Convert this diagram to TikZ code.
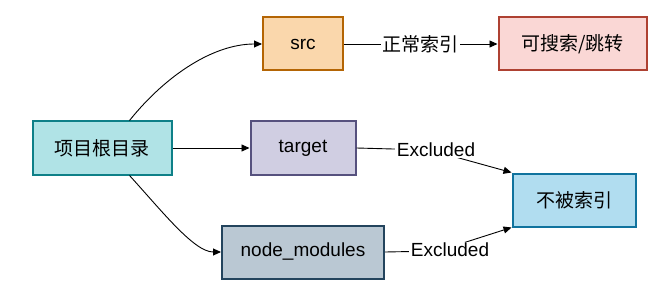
\documentclass[tikz,border=0pt]{standalone}
\usepackage{fontspec}
\setmainfont{Liberation Sans}
\newfontfamily\cjk{Noto Sans CJK SC}
\usetikzlibrary{arrows.meta}
\definecolor{rootfill}{RGB}{176,227,230}
\definecolor{rootline}{RGB}{14,128,136}
\definecolor{srcfill}{RGB}{250,215,172}
\definecolor{srcline}{RGB}{180,101,4}
\definecolor{hitfill}{RGB}{250,215,213}
\definecolor{hitline}{RGB}{174,65,50}
\definecolor{tgtfill}{RGB}{208,206,226}
\definecolor{tgtline}{RGB}{86,81,126}
\definecolor{skipfill}{RGB}{177,221,240}
\definecolor{skipline}{RGB}{16,115,158}
\definecolor{nmfill}{RGB}{186,200,211}
\definecolor{nmline}{RGB}{35,68,93}

\begin{document}
\begin{tikzpicture}[x=1pt, y=-1pt,
  box/.style={draw, line width=2pt, minimum height=53pt, inner sep=0pt,
    font=\fontsize{19}{22}\selectfont},
  lbl/.style={fill=white, inner sep=1.5pt, font=\fontsize{19}{22}\selectfont},
  link/.style={line width=0.9pt, -{Triangle[length=8pt,width=7pt]}},
]
  \useasboundingbox (0,0) rectangle (668,299);

  % Folders of the project
  \node[box, fill=rootfill, draw=rootline, minimum width=139pt] (root) at (102,148)
    {\cjk 项目根目录};
  \node[box, fill=srcfill, draw=srcline, minimum width=80pt] (src) at (303,44) {src};
  \node[box, fill=tgtfill, draw=tgtline, minimum width=105pt] (target) at (303,148) {target};
  \node[box, fill=nmfill, draw=nmline, minimum width=162pt] (nodemod) at (303,252)
    {node\_modules};

  % What happens to them
  \node[box, fill=hitfill, draw=hitline, minimum width=148pt] (search) at (572.5,44)
    {\cjk 可搜索/跳转};
  \node[box, fill=skipfill, draw=skipline, minimum width=123pt] (noidx) at (574,200)
    {\cjk 不被索引};

  % Edges from the root
  \draw[link] (root.45) .. controls +(37,-46) and +(-48,0) .. (src.west);
  \draw[link] (root.east) -- (target.west);
  \draw[link] (root.-45) .. controls +(32,35) and +(-27,0) .. (nodemod.west);

  % Indexed or not
  \draw[link] (src.east) -- node[lbl] (normal) {\cjk 正常索引} (search.west);
  \coordinate (bendT) at (430,150);
  \coordinate (bendN) at (438,251);
  \draw[link] (target.east) -- (bendT) -- (noidx.north west);
  \draw[link] (nodemod.east) -- (bendN) -- (noidx.south west);
  \node[lbl] (exclT) at (436,150) {Excluded};
  \node[lbl] (exclN) at (450,250) {Excluded};
\end{tikzpicture}
\end{document}
